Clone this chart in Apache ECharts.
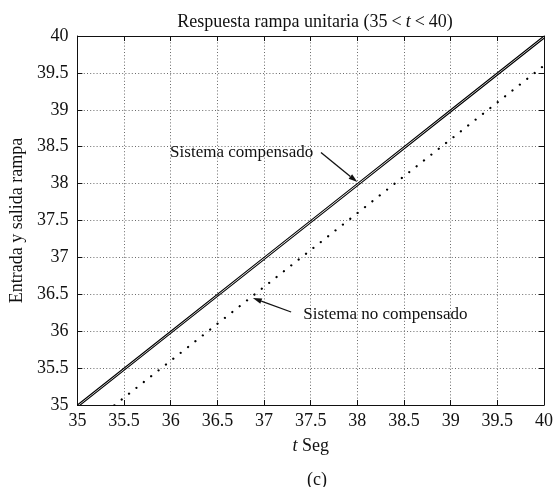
<!DOCTYPE html>
<html>
<head>
<meta charset="utf-8">
<script src="https://cdn.jsdelivr.net/npm/echarts@6/dist/echarts.min.js"></script>
<style>
  html, body { margin: 0; padding: 0; background: #fff; }
  #chart { width: 556px; height: 487px; }
</style>
</head>
<body>
<div id="chart"></div>
<script>
// Unit-ramp response between t = 35 s and t = 40 s
const tiempo = [35, 36, 37, 38, 39, 40];
const entradaRampa = [35, 36, 37, 38, 39, 40];
const salidaCompensada = [34.97, 35.97, 36.97, 37.97, 38.97, 39.97];
const salidaNoCompensada = [34.6, 35.6, 36.6, 37.6, 38.6, 39.6];

// Axis ticks
const ticksX = [35, 35.5, 36, 36.5, 37, 37.5, 38, 38.5, 39, 39.5, 40];
const ticksY = [35, 35.5, 36, 36.5, 37, 37.5, 38, 38.5, 39, 39.5, 40];

// Annotations: text anchor, arrow start, arrow tip (data coordinates)
const notaCompensado = { text: 'Sistema compensado', at: [36.76, 38.42], from: [37.61, 38.42], to: [38.0, 38.02] };
const notaNoCompensado = { text: 'Sistema no compensado', at: [38.30, 36.22], from: [37.29, 36.26], to: [36.88, 36.45] };

const FONT = 'Liberation Serif';
const pares = (xs, ys) => xs.map((x, i) => [x, ys[i]]);

const chart = echarts.init(document.getElementById('chart'), null, { renderer: 'canvas' });

const gridStyle = { show: true, lineStyle: { color: '#6a6a6a', width: 1, type: [1, 2.2] } };
const labelStyle = { color: '#111', fontFamily: FONT, fontSize: 18 };
const lineaEje = { show: true, lineStyle: { color: '#111', width: 1 } };
const richTexto = {
  n: { fontFamily: FONT, fontSize: 18, fontWeight: 'normal', color: '#111' },
  i: { fontFamily: FONT, fontSize: 18, fontWeight: 'normal', fontStyle: 'italic', color: '#111' },
  r: { fontFamily: FONT, fontSize: 18, fontWeight: 'normal', color: '#111', padding: [0, 4] }
};

const option = {
  animation: false,
  backgroundColor: '#fff',
  title: [
    {
      text: '{n|Respuesta rampa unitaria (35}{r|<}{i|t}{r|<}{n|40)}',
      left: 310, top: 8, textAlign: 'center',
      textStyle: { fontWeight: 'normal', rich: richTexto }
    },
    {
      text: '(c)', left: 312, top: 466, textAlign: 'center',
      textStyle: { fontFamily: FONT, fontSize: 18, fontWeight: 'normal', color: '#111' }
    }
  ],
  grid: { left: 75, right: 11, top: 36, bottom: 82, containLabel: false },
  xAxis: [
    {
      type: 'value', min: ticksX[0], max: ticksX[ticksX.length - 1], interval: 0.5,
      position: 'bottom',
      name: '{i|t}{n| Seg}', nameLocation: 'middle', nameGap: 32,
      nameTextStyle: { rich: richTexto },
      axisLine: lineaEje,
      axisTick: { show: true, inside: true, length: 5, lineStyle: { color: '#111' } },
      axisLabel: Object.assign({ margin: 7 }, labelStyle),
      splitLine: gridStyle
    },
    {
      type: 'value', min: ticksX[0], max: ticksX[ticksX.length - 1], interval: 0.5,
      position: 'top',
      axisLine: lineaEje,
      axisTick: { show: true, inside: true, length: 5, lineStyle: { color: '#111' } },
      axisLabel: { show: false },
      splitLine: { show: false }
    }
  ],
  yAxis: [
    {
      type: 'value', min: ticksY[0], max: ticksY[ticksY.length - 1], interval: 0.5,
      position: 'left',
      name: 'Entrada y salida rampa', nameLocation: 'middle', nameGap: 50,
      nameTextStyle: { fontFamily: FONT, fontSize: 18, color: '#111' },
      axisLine: lineaEje,
      axisTick: { show: true, inside: true, length: 5, lineStyle: { color: '#111' } },
      axisLabel: Object.assign({ margin: 9 }, labelStyle),
      splitLine: gridStyle
    },
    {
      type: 'value', min: ticksY[0], max: ticksY[ticksY.length - 1], interval: 0.5,
      position: 'right',
      axisLine: lineaEje,
      axisTick: { show: true, inside: true, length: 5, lineStyle: { color: '#111' } },
      axisLabel: { show: false },
      splitLine: { show: false }
    }
  ],
  series: [
    {
      name: 'Entrada rampa', type: 'line', xAxisIndex: 0, yAxisIndex: 0,
      data: pares(tiempo, entradaRampa), showSymbol: false, clip: true,
      lineStyle: { color: '#000', width: 1.1 }, z: 3
    },
    {
      name: 'Sistema compensado', type: 'line', xAxisIndex: 0, yAxisIndex: 0,
      data: pares(tiempo, salidaCompensada), showSymbol: false, clip: true,
      lineStyle: { color: '#000', width: 1.1 }, z: 3
    },
    {
      name: 'Sistema no compensado', type: 'line', xAxisIndex: 0, yAxisIndex: 0,
      data: pares(tiempo, salidaNoCompensada), showSymbol: false, clip: true,
      lineStyle: { color: '#000', width: 2.2, type: [0.1, 9.3], cap: 'round' }, z: 3
    }
  ]
};

chart.setOption(option);

// Annotation texts with arrows, positioned from data coordinates
function aPixel(p) {
  return chart.convertToPixel({ xAxisIndex: 0, yAxisIndex: 0 }, p);
}
function flecha(nota) {
  const a = aPixel(nota.at), s = aPixel(nota.from), e = aPixel(nota.to);
  const dx = e[0] - s[0], dy = e[1] - s[1];
  const L = Math.hypot(dx, dy), ux = dx / L, uy = dy / L;
  const largo = 9, ancho = 2.8;
  const bx = e[0] - ux * largo, by = e[1] - uy * largo;
  return [
    {
      type: 'text', x: a[0], y: a[1], z: 10,
      style: { text: nota.text, fontFamily: FONT, fontSize: 17, fill: '#111', align: 'center', verticalAlign: 'middle' }
    },
    {
      type: 'line', z: 10,
      shape: { x1: s[0], y1: s[1], x2: bx, y2: by },
      style: { stroke: '#111', lineWidth: 1.3 }
    },
    {
      type: 'polygon', z: 10,
      shape: { points: [[e[0], e[1]], [bx - uy * ancho, by + ux * ancho], [bx + uy * ancho, by - ux * ancho]] },
      style: { fill: '#111' }
    }
  ];
}
chart.setOption({ graphic: flecha(notaCompensado).concat(flecha(notaNoCompensado)) });
</script>
</body>
</html>
